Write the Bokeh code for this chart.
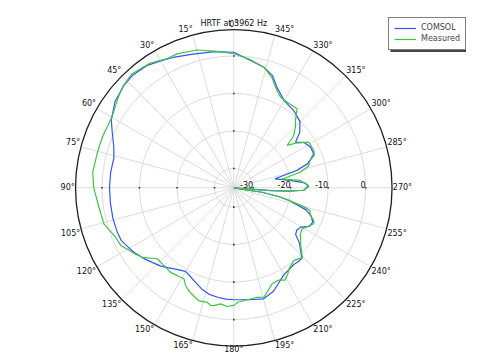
import numpy as np
from bokeh.plotting import figure
from bokeh.models import Range1d, Legend, LegendItem
from bokeh.embed import file_html
from bokeh.resources import INLINE
from bokeh.core.properties import value

# ---------------- data ----------------
TITLE = "HRTF at 3962 Hz"
SERIES_NAMES = ["COMSOL", "Measured"]
RADIAL_TICKS = [-30, -20, -10, 0]
RADIAL_LABELS = ["-30", "-20", "-10", "0"]
ANGLE_TICKS = list(range(0, 360, 15))
ANGLE_LABELS = [f"{a}\u00b0" for a in ANGLE_TICKS]
R_MIN, R_MAX = -35.15, 7.05

comsol_deg = [0, 8, 17, 25, 29, 35, 42, 47, 54, 61, 66, 71, 76, 83, 90, 97, 104, 110,
              115, 119, 123, 128, 133, 137, 141, 145, 150, 155, 159, 163, 167, 172, 176,
              180, 188, 195, 201, 205, 210, 214, 218, 221, 224, 227, 230, 233, 236, 239.5,
              243, 246.5, 250, 253, 257, 259, 261, 263, 265.7, 266.5, 268, 271, 274, 277.5,
              282.3, 285.4, 288, 290, 293, 298, 303, 306.5, 310, 315, 322, 330, 334, 337,
              341, 346, 352.5]
comsol_db = [1.0, 1.5, 2.1, 3.2, 3.75, 4.8, 5.2, 4.9, 4.0, 2.2, 0.3, -1.3, -2.2, -2.05,
             -2.0, -2.0, -1.9, -1.9, -2.0, -2.8, -3.5, -4.6, -5.8, -6.6, -7.7, -8.6, -9.4,
             -8.6, -7.7, -6.7, -6.0, -5.6, -5.4, -5.3, -5.0, -4.5, -5.6, -7.0, -8.4, -8.8,
             -9.2, -9.0, -9.0, -10.8, -12.3, -14.5, -14.9, -14.5, -12.5, -12.2, -13.2,
             -15.0, -19.8, -23.0, -27.6, -40.0, -25.0, -20.5, -16.5, -15.2, -16.1, -20.0,
             -23.9, -17.8, -14.5, -13.5, -12.0, -12.0, -12.9, -14.7, -12.2, -10.2, -9.1,
             -8.3, -7.0, -5.9, -3.5, -2.0, -0.9]

measured_deg = [0, 8, 15, 23, 27, 34, 41.7, 47, 51, 55, 59.3, 64, 68, 72.5, 76, 83.7, 90,
                98, 105.5, 112.7, 117, 120, 124, 127.2, 132.8, 136, 139.3, 143, 149.2,
                151.2, 153.7, 157, 160, 163, 166.9, 168.8, 170.4, 173.5, 176.8, 180, 182,
                186, 192, 195.3, 199, 201.8, 206, 209, 212, 215, 219.5, 224.6, 227, 230,
                232, 235, 239, 242, 245.8, 247.8, 250.1, 253.5, 255, 257, 259, 261, 263.5,
                265.5, 266.5, 268, 271.8, 276.3, 280.2, 283.2, 286, 289.7, 292, 295, 301.3,
                305.9, 308.4, 311, 314.5, 317.5, 321.3, 327, 332.7, 337.5, 341, 346, 353]
measured_db = [0.6, 1.65, 2.9, 3.65, 3.6, 4.9, 5.6, 5.0, 4.2, 3.3, 2.5, 2.3, 2.4, 2.4, 2.4,
               2.7, 2.2, 1.2, 0.8, -1.0, -1.3, -2.4, -3.5, -4.5, -7.3, -7.3, -7.25, -7.0,
               -7.4, -7.5, -6.1, -5.0, -4.3, -3.6, -3.8, -3.2, -3.3, -4.0, -3.45, -3.8,
               -4.6, -5.0, -5.3, -4.9, -6.5, -7.6, -7.8, -7.0, -8.0, -9.2, -10.0, -9.1,
               -10.5, -11.9, -12.5, -13.5, -13.9, -13.0, -11.8, -12.1, -13.5, -14.0, -16.0,
               -19.9, -23.0, -27.6, -40.0, -26.0, -20.5, -16.5, -15.2, -17.3, -22.2, -17.0,
               -14.5, -13.5, -12.0, -11.6, -11.75, -14.85, -17.0, -14.0, -12.1, -10.8,
               -8.15, -8.3, -8.0, -6.1, -4.0, -2.0, -0.6]

# ---------------- geometry ----------------
W, H = 486, 354
S = 3.75               # pixels per dB
CX, CY = 233.3, 187.3  # screen position of the pole
R_OUT = R_MAX - R_MIN
FONT = "DejaVu Sans"
FS = "8px"


def polar_xy(deg, db, closed=False):
    deg = np.asarray(deg, dtype=float)
    r = np.clip(np.asarray(db, dtype=float) - R_MIN, 0, None)
    if closed:
        deg = np.append(deg, deg[0])
        r = np.append(r, r[0])
    t = np.radians(deg)
    return -r * np.sin(t), r * np.cos(t)


def sx(px):
    return (px - CX) / S


def sy(py):
    return (CY - py) / S


p = figure(width=W, height=H, output_backend="svg", toolbar_location=None,
           x_range=Range1d(sx(0), sx(W)), y_range=Range1d(sy(H), sy(0)),
           x_axis_type=None, y_axis_type=None, min_border=0)
p.outline_line_color = None
p.background_fill_color = "white"

# spokes
t = np.radians(ANGLE_TICKS)
p.segment(x0=0, y0=0, x1=list(-R_OUT * np.sin(t)), y1=list(R_OUT * np.cos(t)),
          line_color="#dcdcdc", line_width=1)
# rings
ring_r = [v - R_MIN for v in RADIAL_TICKS]
p.circle(x=[0] * len(ring_r), y=[0] * len(ring_r), radius=ring_r,
         fill_color=None, line_color="#dcdcdc", line_width=1)
# outer circle
p.circle(x=[0], y=[0], radius=[R_OUT], fill_color=None, line_color="#1e1e1e",
         line_width=1.3)

# tick dots on main axes
dx, dy = [], []
for r in ring_r:
    dx += [0, 0, r, -r]
    dy += [r, -r, 0, 0]
p.scatter(x=dx, y=dy, marker="square", size=1.6, fill_color="#333333", line_color=None)

# curves
bx, by = polar_xy(comsol_deg, comsol_db, closed=True)
gx, gy = polar_xy(measured_deg, measured_db, closed=True)
r1 = p.line(bx, by, line_color="#3154ff", line_width=1.2)
r2 = p.line(gx, gy, line_color="#3fc43f", line_width=1.2)

# angle labels
groups = {}
for a, lab in zip(ANGLE_TICKS, ANGLE_LABELS):
    if a == 0:
        k = ("center", "bottom")
    elif a < 90:
        k = ("right", "bottom")
    elif a == 90:
        k = ("right", "middle")
    elif a < 180:
        k = ("right", "top")
    elif a == 180:
        k = ("center", "top")
    elif a < 270:
        k = ("left", "top")
    elif a == 270:
        k = ("left", "middle")
    else:
        k = ("left", "bottom")
    groups.setdefault(k, []).append((a, lab))
for (al, bl), items in groups.items():
    aa = np.radians([i[0] for i in items])
    rr = R_OUT + 0.2
    ys = list(rr * np.cos(aa))
    if (al, bl) == ("center", "top"):
        # keep the bottom label inside the canvas
        bl = "bottom"
        ys = [sy(H - 0.5)]
    p.text(x=list(-rr * np.sin(aa)), y=ys, text=[i[1] for i in items],
           text_align=al, text_baseline=bl, text_font=value(FONT), text_font_size=FS,
           text_color="#111111")

# radial labels along 270 deg
p.text(x=ring_r, y=[0] * len(ring_r), text=RADIAL_LABELS, text_align="right",
       text_baseline="bottom", text_font=value(FONT), text_font_size=FS,
       text_color="#111111")

# title
p.text(x=[0], y=[sy(22.7)], text=[TITLE], text_align="center",
       text_baseline="alphabetic", text_font=value(FONT), text_font_size=FS,
       text_color="#111111")

# legend shadow
p.quad(left=[sx(390)], right=[sx(465.5)], top=[sy(21)], bottom=[sy(51.5)],
       fill_color="#444444", line_color=None)

legend = Legend(items=[LegendItem(label=SERIES_NAMES[0], renderers=[r1]),
                       LegendItem(label=SERIES_NAMES[1], renderers=[r2])],
                location=(388, H - 49.5), border_line_color="black",
                border_line_width=1, padding=5, spacing=1, margin=0,
                glyph_width=22, glyph_height=10, label_height=10, label_standoff=5,
                label_text_font=FONT, label_text_font_size=FS,
                background_fill_alpha=1.0)
p.add_layout(legend)

open("out.html", "w").write(file_html(p, INLINE))
